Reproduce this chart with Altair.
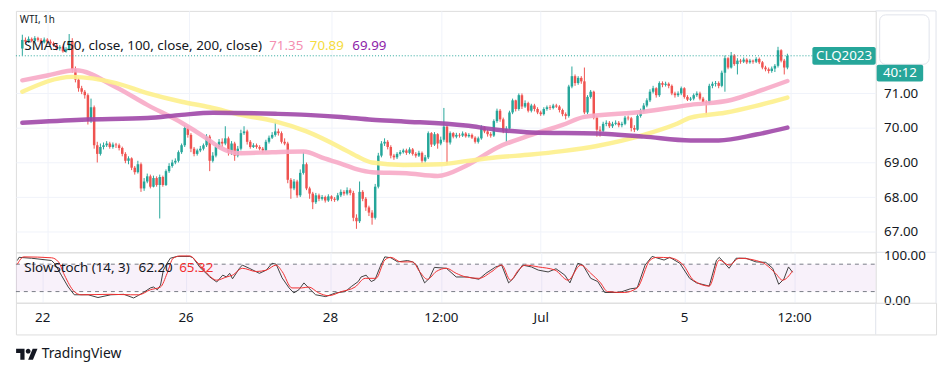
import altair as alt
import pandas as pd

# ---------------- data ----------------
opens = [
72.30, 72.55, 72.50, 72.58, 72.52, 72.60, 72.55, 72.48, 72.56, 72.50,
72.45, 72.40, 72.30, 72.35, 72.22, 72.28, 72.52, 71.70, 71.40, 71.15,
71.05, 70.95, 70.20, 70.60, 69.50, 69.25, 69.45, 69.50, 69.55, 69.45,
69.52, 69.50, 69.42, 69.25, 69.05, 69.12, 68.85, 68.72, 68.95, 68.25,
68.45, 68.60, 68.30, 68.55, 68.35, 68.58, 68.35, 68.75, 68.90, 69.00,
69.05, 69.30, 69.50, 70.00, 69.80, 69.40, 69.25, 69.35, 69.40, 69.50,
69.75, 69.05, 69.20, 69.45, 69.60, 69.55, 69.70, 69.30, 69.55, 69.20,
69.40, 69.85, 69.90, 69.60, 69.45, 69.50, 69.45, 69.40, 69.35, 69.60,
69.72, 69.80, 69.90, 69.85, 69.60, 69.55, 68.50, 68.25, 68.45, 68.05,
68.70, 68.95, 68.25, 68.10, 67.85, 68.05, 67.95, 68.00, 67.90, 68.02,
67.95, 67.92, 68.05, 68.15, 68.10, 68.20, 68.12, 67.40, 67.30, 68.15,
67.95, 67.70, 67.55, 67.40, 68.30, 69.20, 69.55, 69.60, 69.45, 69.20,
69.15, 69.25, 69.30, 69.35, 69.28, 69.38, 69.25, 69.20, 69.28, 69.05,
69.15, 69.85, 69.52, 69.82, 69.55, 69.66, 70.04, 69.58, 69.85, 69.75,
69.80, 69.78, 69.84, 69.76, 69.80, 69.72, 69.60, 69.70, 70.02, 69.90,
69.82, 69.78, 70.20, 70.50, 70.25, 69.92, 69.98, 70.45, 70.80, 70.55,
70.95, 70.62, 70.72, 70.50, 70.65, 70.55, 70.45, 70.40, 70.55, 70.60,
70.58, 70.65, 70.62, 70.52, 70.40, 70.35, 71.20, 71.50, 71.30, 71.45,
71.35, 70.45, 70.90, 71.05, 70.30, 69.95, 69.92, 70.12, 70.15, 70.05,
70.12, 70.15, 70.08, 70.12, 70.30, 70.28, 70.00, 69.95, 70.35, 70.50,
70.65, 70.80, 71.05, 71.15, 70.95, 71.30, 71.25, 71.28, 71.22, 71.00,
70.95, 71.00, 71.15, 70.90, 70.82, 70.85, 70.95, 71.00, 70.85, 70.75,
70.72, 71.22, 71.28, 71.30, 71.22, 71.60, 72.02, 71.75, 72.10, 71.85,
71.95, 71.92, 71.98, 71.90, 71.95, 71.92, 72.00, 71.90, 71.75, 71.70,
71.65, 71.72, 71.80, 72.25, 71.95, 71.75]

highs = [
72.70, 72.62, 72.65, 72.62, 72.66, 72.64, 72.60, 72.62, 72.60, 72.56,
72.50, 72.46, 72.40, 72.38, 72.34, 72.72, 72.60, 71.78, 71.45, 71.22,
71.10, 71.00, 70.85, 70.65, 69.60, 69.55, 69.58, 69.62, 69.60, 69.58,
69.57, 69.55, 69.46, 69.30, 69.18, 69.15, 68.90, 69.05, 69.00, 68.55,
68.68, 68.65, 68.62, 68.60, 68.65, 68.62, 68.80, 68.98, 69.08, 69.12,
69.35, 69.55, 70.08, 70.05, 69.85, 69.45, 69.40, 69.48, 69.55, 69.82,
69.80, 69.30, 69.52, 69.68, 69.70, 70.05, 69.75, 69.62, 69.60, 69.48,
69.95, 70.05, 69.95, 69.65, 69.56, 69.55, 69.50, 69.45, 69.66, 69.78,
69.88, 70.18, 69.98, 69.90, 69.70, 69.60, 68.55, 68.52, 68.50, 68.80,
69.30, 69.00, 68.30, 68.15, 68.12, 68.10, 68.06, 68.04, 68.08, 68.05,
68.00, 68.12, 68.22, 68.20, 68.28, 68.25, 68.18, 67.50, 68.45, 68.20,
68.00, 67.75, 67.62, 68.38, 69.28, 69.62, 69.70, 69.65, 69.50, 69.25,
69.30, 69.36, 69.40, 69.40, 69.44, 69.42, 69.30, 69.34, 69.32, 69.22,
69.90, 69.88, 69.88, 69.85, 69.75, 70.58, 70.08, 69.90, 69.88, 69.86,
69.85, 69.90, 69.88, 69.85, 69.84, 69.76, 69.75, 70.08, 70.05, 69.95,
69.88, 70.25, 70.56, 70.55, 70.30, 70.05, 70.50, 70.85, 70.82, 71.00,
71.00, 70.80, 70.76, 70.70, 70.70, 70.60, 70.50, 70.60, 70.65, 70.66,
70.70, 70.70, 70.66, 70.56, 70.45, 71.25, 71.78, 71.55, 71.50, 71.50,
71.75, 70.95, 71.10, 71.08, 70.35, 70.05, 70.18, 70.22, 70.20, 70.18,
70.22, 70.20, 70.18, 70.35, 70.36, 70.32, 70.08, 70.40, 70.56, 70.72,
70.86, 71.12, 71.22, 71.18, 71.35, 71.35, 71.34, 71.32, 71.26, 71.05,
71.06, 71.20, 71.18, 70.95, 70.90, 71.00, 71.06, 71.05, 70.90, 70.80,
71.28, 71.34, 71.36, 71.35, 71.66, 72.10, 72.05, 72.20, 72.14, 72.02,
72.00, 72.04, 72.02, 72.00, 71.98, 72.05, 72.04, 71.94, 71.80, 71.75,
71.78, 71.85, 72.35, 72.28, 72.00, 72.15]

lows = [
72.10, 72.45, 72.46, 72.48, 72.50, 72.50, 72.44, 72.45, 72.46, 72.40,
72.35, 72.25, 72.24, 72.18, 72.18, 72.25, 71.60, 71.32, 71.05, 70.98,
70.85, 70.10, 70.15, 69.40, 69.00, 69.20, 69.38, 69.45, 69.40, 69.40,
69.42, 69.35, 69.18, 68.98, 68.95, 68.78, 68.65, 68.68, 68.15, 68.18,
68.40, 68.25, 68.28, 68.30, 67.38, 68.30, 68.32, 68.70, 68.85, 68.95,
69.00, 69.25, 69.45, 69.72, 69.30, 69.18, 69.20, 69.30, 69.35, 69.45,
68.75, 69.00, 69.15, 69.40, 69.45, 69.50, 69.20, 69.22, 69.05, 69.15,
69.35, 69.80, 69.52, 69.40, 69.42, 69.40, 69.35, 69.28, 69.32, 69.55,
69.68, 69.75, 69.78, 69.55, 69.50, 68.40, 67.95, 68.20, 67.98, 68.00,
68.65, 68.20, 67.95, 67.65, 67.80, 67.88, 67.90, 67.84, 67.86, 67.88,
67.86, 67.88, 68.00, 68.04, 68.05, 68.05, 67.30, 67.08, 67.25, 67.88,
67.60, 67.45, 67.20, 67.35, 68.25, 69.15, 69.48, 69.38, 69.12, 69.08,
69.10, 69.20, 69.26, 69.22, 69.24, 69.20, 69.14, 69.16, 68.98, 69.00,
69.10, 69.45, 69.48, 69.40, 69.50, 69.60, 68.94, 69.52, 69.70, 69.70,
69.72, 69.74, 69.72, 69.72, 69.68, 69.55, 69.55, 69.66, 69.85, 69.75,
69.72, 69.74, 70.15, 70.18, 69.85, 69.60, 69.95, 70.40, 70.48, 70.50,
70.55, 70.58, 70.45, 70.45, 70.48, 70.40, 70.35, 70.36, 70.50, 70.52,
70.54, 70.58, 70.45, 70.34, 70.25, 70.30, 71.15, 71.22, 71.25, 71.28,
70.40, 70.40, 70.85, 70.25, 69.75, 69.75, 69.88, 70.05, 70.00, 70.00,
70.08, 70.02, 70.02, 70.08, 70.22, 69.90, 69.88, 69.92, 70.30, 70.45,
70.60, 70.75, 71.00, 70.88, 70.90, 71.18, 71.20, 71.15, 70.95, 70.88,
70.90, 70.95, 70.85, 70.78, 70.78, 70.80, 70.90, 70.80, 70.70, 70.38,
70.68, 71.15, 71.20, 71.15, 71.18, 71.05, 71.70, 71.72, 71.80, 71.55,
71.86, 71.88, 71.85, 71.86, 71.86, 71.88, 71.85, 71.70, 71.64, 71.58,
71.60, 71.62, 71.75, 71.90, 71.55, 71.70]

closes = [
72.55, 72.50, 72.58, 72.52, 72.60, 72.55, 72.48, 72.56, 72.50, 72.45,
72.40, 72.30, 72.35, 72.22, 72.28, 72.52, 71.70, 71.40, 71.15, 71.05,
70.95, 70.20, 70.60, 69.50, 69.25, 69.45, 69.50, 69.55, 69.45, 69.52,
69.50, 69.42, 69.25, 69.05, 69.12, 68.85, 68.72, 68.95, 68.25, 68.45,
68.60, 68.30, 68.55, 68.35, 68.58, 68.35, 68.75, 68.90, 69.00, 69.05,
69.30, 69.50, 70.00, 69.80, 69.40, 69.25, 69.35, 69.40, 69.50, 69.75,
69.05, 69.20, 69.45, 69.60, 69.55, 69.70, 69.30, 69.55, 69.20, 69.40,
69.85, 69.90, 69.60, 69.45, 69.50, 69.45, 69.40, 69.35, 69.60, 69.72,
69.80, 69.90, 69.85, 69.60, 69.55, 68.50, 68.25, 68.45, 68.05, 68.70,
68.95, 68.25, 68.10, 67.85, 68.05, 67.95, 68.00, 67.90, 68.02, 67.95,
67.92, 68.05, 68.15, 68.10, 68.20, 68.12, 67.40, 67.30, 68.15, 67.95,
67.70, 67.55, 67.40, 68.30, 69.20, 69.55, 69.60, 69.45, 69.20, 69.15,
69.25, 69.30, 69.35, 69.28, 69.38, 69.25, 69.20, 69.28, 69.05, 69.15,
69.85, 69.52, 69.82, 69.55, 69.66, 70.04, 69.58, 69.85, 69.75, 69.80,
69.78, 69.84, 69.76, 69.80, 69.72, 69.60, 69.70, 70.02, 69.90, 69.82,
69.78, 70.20, 70.50, 70.25, 69.92, 69.98, 70.45, 70.80, 70.55, 70.95,
70.62, 70.72, 70.50, 70.65, 70.55, 70.45, 70.40, 70.55, 70.60, 70.58,
70.65, 70.62, 70.52, 70.40, 70.35, 71.20, 71.50, 71.30, 71.45, 71.35,
70.45, 70.90, 71.05, 70.30, 69.95, 69.92, 70.12, 70.15, 70.05, 70.12,
70.15, 70.08, 70.12, 70.30, 70.28, 70.00, 69.95, 70.35, 70.50, 70.65,
70.80, 71.05, 71.15, 70.95, 71.30, 71.25, 71.28, 71.22, 71.00, 70.95,
71.00, 71.15, 70.90, 70.82, 70.85, 70.95, 71.00, 70.85, 70.75, 70.72,
71.22, 71.28, 71.30, 71.22, 71.60, 72.02, 71.75, 72.10, 71.85, 71.95,
71.92, 71.98, 71.90, 71.95, 71.92, 72.00, 71.90, 71.75, 71.70, 71.65,
71.72, 71.80, 72.25, 71.95, 71.75, 72.09]

sma50_idx = [0, 8, 17, 30, 40, 51, 59, 63, 69, 80, 90, 97, 102, 107, 112, 123, 133, 142, 152, 163, 173, 180, 199, 214, 227, 235, 245]
sma50 = [71.38, 71.52, 71.67, 71.18, 70.67, 70.15, 69.70, 69.45, 69.27, 69.30, 69.32, 69.11, 68.97, 68.81, 68.72, 68.69, 68.61, 68.90, 69.43, 69.80, 70.09, 70.32, 70.47, 70.67, 70.81, 71.04, 71.36]

sma100_idx = [0, 16, 30, 40, 51, 60, 70, 81, 91, 102, 107, 112, 122, 134, 142, 152, 163, 173, 184, 199, 209, 214, 225, 235, 245]
sma100 = [71.05, 71.48, 71.30, 71.01, 70.76, 70.60, 70.38, 70.19, 69.90, 69.43, 69.19, 69.00, 68.93, 68.95, 69.04, 69.15, 69.23, 69.33, 69.48, 69.80, 70.10, 70.30, 70.44, 70.64, 70.88]

sma200_idx = [0, 19, 40, 51, 61, 81, 91, 102, 112, 122, 142, 152, 163, 184, 199, 214, 223, 235, 245]
sma200 = [70.15, 70.24, 70.29, 70.38, 70.44, 70.41, 70.38, 70.32, 70.24, 70.19, 70.07, 69.95, 69.87, 69.84, 69.75, 69.64, 69.64, 69.81, 70.01]

k_idx = [0, 0.5, 4.5, 10.8, 11.7, 13.9, 16.1, 18, 22.4, 25.5,
         29.6, 33.7, 36.8, 38.4, 39.9, 42.1, 43.1, 44.3, 45.3, 46.2,
         47.4, 48.4, 50.6, 54.6, 55.6, 57.8, 60.9, 63.1, 65, 66.2,
         67.2, 68.1, 70.3, 71.2, 73.4, 76.6, 78.8, 80.6, 81.9, 83.8,
         86, 87.5, 89.1, 90.7, 92.2, 94.4, 97.6, 100.7, 103.8, 105.7,
         107.9, 108.8, 110.4, 112, 113.2, 114.8, 116.3, 118.2, 120.4, 123.5,
         125.1, 126.4, 128.9, 130.4, 132, 135.8, 138.9, 142.4, 146.1, 148.3,
         151.4, 153.3, 155.5, 157, 159.9, 162.7, 164.9, 168, 170.5, 173.3,
         174.9, 177.4, 179, 181.5, 183.7, 185.9, 190.6, 194, 196.2, 198.7,
         200.9, 204.7, 206.5, 209.7, 212.8, 215, 219, 221.3, 222.2, 225.3,
         227.5, 230.6, 233.8, 236.9, 239.1, 241, 242.6, 244.1, 245.4]
k_vals = [88, 95, 93, 88, 82, 56, 30, 13, 13, 7,
          13, 14, 6, 12, 18, 28, 30, 24, 34, 67,
          82, 93, 97, 97, 94, 73, 52, 41, 56, 52,
          60, 48, 71, 78, 71, 60, 67, 82, 80, 50,
          28, 17, 24, 39, 28, 13, 9, 17, 20, 31,
          42, 52, 56, 42, 46, 74, 96, 94, 85, 88,
          85, 78, 39, 49, 73, 71, 52, 52, 47, 60,
          74, 78, 39, 49, 78, 74, 67, 63, 70, 56,
          39, 82, 78, 49, 42, 18, 18, 26, 28, 78,
          97, 89, 95, 82, 49, 39, 32, 89, 95, 71,
          93, 93, 85, 84, 71, 36, 47, 74, 62.2]

d_idx = [0, 2, 10.8, 13, 14.9, 18, 20.2, 29.6, 35.9, 38.4,
         42.1, 45.3, 47.4, 49.3, 51.5, 54.6, 56.8, 60, 63.1, 66.2,
         68.1, 71.2, 75.6, 78.8, 81.9, 83.8, 86.9, 90, 92.2, 95.4,
         98.5, 102.6, 106.9, 110.1, 113.5, 116.3, 118.2, 121.4, 125.1, 127.3,
         129.8, 132.6, 135.8, 138.9, 142, 146.1, 150.2, 153.3, 156.1, 158.6,
         160.8, 164.9, 170.2, 174.3, 178.3, 181.5, 184.6, 186.8, 192.1, 196.2,
         200.3, 202.5, 206.5, 210.8, 214, 219, 222.2, 225.3, 228.5, 235.7,
         240, 242.2, 245.4]
d_vals = [80, 96, 94, 85, 56, 20, 13, 14, 13, 13,
          24, 30, 60, 93, 98, 98, 85, 60, 45, 52,
          56, 71, 64, 67, 78, 64, 28, 28, 30, 17,
          11, 20, 30, 49, 49, 89, 95, 85, 85, 64,
          47, 64, 71, 60, 52, 49, 64, 78, 45, 67,
          78, 74, 67, 45, 78, 60, 39, 20, 18, 28,
          89, 95, 94, 78, 45, 32, 89, 78, 93, 84,
          60, 45, 65.32]

tick_idx = [8, 53.4, 99.1, 134.2, 165.8, 211.2, 246]
tick_labels = ["22", "26", "28", "12:00", "Jul", "5", "12:00"]
price_ticks = [67, 68, 69, 70, 71]
stoch_ticks = [0, 100]
sma_legend = ["71.35", "70.89", "69.99"]
stoch_legend = ["62.20", "65.32"]

# ---------------- styling ----------------
UP, DOWN = "#26a69a", "#ef5350"
PINK, YELLOW, PURPLE = "#f7aac7", "#fdef8c", "#a048a8"
FONT = "Noto Sans"
TXT = "#131722"
GRID = "#f0f3fa"
BORDER = "#e0e3eb"

W, W_FULL = 869, 930
H_TOP, H_ST, H_TIME = 244, 51, 32
X_MIN, X_MAX = -0.47, 271.7
X_MAX_FULL = X_MIN + (X_MAX - X_MIN) * W_FULL / W

n = min(len(opens), len(highs), len(lows), len(closes))
candles = pd.DataFrame({"i": list(range(n)), "o": opens[:n], "h": highs[:n],
                        "l": lows[:n], "c": closes[:n]})
candles["dir"] = ["up" if c >= o else "down" for o, c in zip(candles["o"], candles["c"])]
last = closes[n - 1]
one = pd.DataFrame({"a": [0]})

xs = alt.Scale(domain=[X_MIN, X_MAX], nice=False, zero=False)
x_axis = alt.Axis(values=tick_idx, grid=True, gridColor=GRID, labels=False,
                  ticks=False, domain=False, title=None)
X = alt.X("i:Q", scale=xs, axis=x_axis)

ps = alt.Scale(domain=[66.40, 73.39], nice=False, zero=False)
p_axis = alt.Axis(orient="right", values=price_ticks, format=".2f", grid=True,
                  gridColor=GRID, ticks=False, domain=False, labelFont=FONT,
                  labelFontSize=13.5, labelColor=TXT, labelPadding=8, title=None)

cdir = alt.Color("dir:N", scale=alt.Scale(domain=["up", "down"], range=[UP, DOWN]), legend=None)

wicks = alt.Chart(candles).mark_rule(strokeWidth=1).encode(
    x=X, y=alt.Y("l:Q", scale=ps, axis=p_axis), y2="h:Q", color=cdir)
bodies = alt.Chart(candles).mark_bar(size=2.5).encode(
    x=X, y=alt.Y("o:Q", scale=ps, axis=p_axis), y2="c:Q", color=cdir)


def sma_layer(idx, vals, col, op):
    m = min(len(idx), len(vals))
    df = pd.DataFrame({"i": idx[:m], "v": vals[:m]})
    return alt.Chart(df).mark_line(strokeWidth=4.5, interpolate="monotone",
                                   strokeCap="round", color=col, opacity=op).encode(
        x=X, y=alt.Y("v:Q", scale=ps, axis=p_axis))


def text_at(s, x, y, col=TXT, size=13, align="left", weight="normal"):
    return alt.Chart(pd.DataFrame({"t": [s]})).mark_text(
        align=align, baseline="middle", font=FONT, fontSize=size, color=col,
        fontWeight=weight).encode(x=alt.value(x), y=alt.value(y), text="t:N")


def frame_rule(x, x2, y, y2):
    return alt.Chart(one).mark_rule(color=BORDER, strokeWidth=1).encode(
        x=alt.value(x), x2=alt.value(x2), y=alt.value(y), y2=alt.value(y2))


lastdf = pd.DataFrame({"p": [last], "t": ["CLQ2023"], "u": ["40:12"]})
last_line = alt.Chart(lastdf).mark_rule(strokeDash=[1, 2], color=UP, strokeWidth=1).encode(
    y=alt.Y("p:Q", scale=ps, axis=p_axis), x=alt.value(0), x2=alt.value(805))
clq_box = alt.Chart(lastdf).mark_rect(color=UP, yOffset=-9, y2Offset=9, cornerRadius=2).encode(
    y=alt.Y("p:Q", scale=ps, axis=p_axis), y2="p:Q", x=alt.value(805), x2=alt.value(869))
clq_txt = alt.Chart(lastdf).mark_text(color="white", font=FONT, fontSize=13.5,
                                      align="center", baseline="middle").encode(
    y=alt.Y("p:Q", scale=ps, axis=p_axis), x=alt.value(837), text="t:N")
tm_box = alt.Chart(lastdf).mark_rect(color=UP, yOffset=9, y2Offset=26, cornerRadius=2).encode(
    y=alt.Y("p:Q", scale=ps, axis=p_axis), y2="p:Q", x=alt.value(870), x2=alt.value(917))
tm_txt = alt.Chart(lastdf).mark_text(color="white", font=FONT, fontSize=13.5, yOffset=17.5,
                                     align="center", baseline="middle").encode(
    y=alt.Y("p:Q", scale=ps, axis=p_axis), x=alt.value(893.5), text="u:N")
blank_box = alt.Chart(one).mark_rect(fill="white", stroke=BORDER, strokeWidth=1, cornerRadius=6).encode(
    x=alt.value(873), x2=alt.value(923), y=alt.value(4), y2=alt.value(54))

top = alt.layer(
    wicks, bodies,
    sma_layer(sma50_idx, sma50, PINK, 0.9),
    sma_layer(sma100_idx, sma100, YELLOW, 0.9),
    sma_layer(sma200_idx, sma200, PURPLE, 0.9),
    last_line,
    text_at("WTI, 1h", 4, 9.5, size=10),
    text_at("SMAs (50, close, 100, close, 200, close)", 8.5, 35.3, size=13.5),
    text_at(sma_legend[0], 256, 35.3, "#f48fb1", size=13.5),
    text_at(sma_legend[1], 297, 35.3, "#f5dc3c", size=13.5),
    text_at(sma_legend[2], 340, 35.3, "#8e24aa", size=13.5),
    clq_box, clq_txt, blank_box, tm_box, tm_txt,
    frame_rule(869, 930, 0, 0), frame_rule(930, 930, 0, H_TOP), frame_rule(869, 930, H_TOP, H_TOP),
).properties(width=W, height=H_TOP)

# ---------------- stochastic panel ----------------
ss = alt.Scale(domain=[-4.5, 106], nice=False, zero=False)
s_axis = alt.Axis(orient="right", values=stoch_ticks, format=".2f", grid=False, ticks=False,
                  domain=False, labelFont=FONT, labelFontSize=13.5, labelColor=TXT,
                  labelPadding=8, title=None)
XS = alt.X("i:Q", scale=xs, axis=x_axis)

band = alt.Chart(pd.DataFrame({"lo": [20], "hi": [80]})).mark_rect(color="#9c27b0", opacity=0.065).encode(
    y=alt.Y("lo:Q", scale=ss, axis=s_axis), y2="hi:Q", x=alt.value(0), x2=alt.value(W))
levels = alt.Chart(pd.DataFrame({"lv": [20, 80]})).mark_rule(
    color="#787b86", strokeDash=[4, 4], strokeWidth=1).encode(
    y=alt.Y("lv:Q", scale=ss, axis=s_axis), x=alt.value(0), x2=alt.value(W))
mk = min(len(k_idx), len(k_vals))
kdf = pd.DataFrame({"i": k_idx[:mk], "v": k_vals[:mk]})
md = min(len(d_idx), len(d_vals))
ddf = pd.DataFrame({"i": d_idx[:md], "v": d_vals[:md]})
kline = alt.Chart(kdf).mark_line(color="#404040", strokeWidth=1).encode(
    x=XS, y=alt.Y("v:Q", scale=ss, axis=s_axis))
dline = alt.Chart(ddf).mark_line(color="#f23030", strokeWidth=1, interpolate="monotone").encode(
    x=XS, y=alt.Y("v:Q", scale=ss, axis=s_axis))

stoch = alt.layer(
    band, levels, kline, dline,
    text_at("SlowStoch (14, 3)", 8.5, 16, size=13.5),
    text_at(stoch_legend[0], 124, 16, size=13.5),
    text_at(stoch_legend[1], 165, 16, "#f23030", size=13.5),
    frame_rule(930, 930, 0, H_ST),
).properties(width=W, height=H_ST)

# ---------------- time axis panel ----------------
xs_full = alt.Scale(domain=[X_MIN, X_MAX_FULL], nice=False, zero=False)
tdf = pd.DataFrame({"i": tick_idx, "t": tick_labels})
tlabels = alt.Chart(tdf).mark_text(font=FONT, fontSize=13.5, color=TXT, baseline="middle").encode(
    x=alt.X("i:Q", scale=xs_full, axis=None), y=alt.value(15), text="t:N")

logo_path = ("M-0.208,0.5L-0.597,0.5L-0.597,-0.111L-0.986,-0.111L-0.986,-0.5L-0.208,-0.5Z"
             "M0.569,0.5L0.125,0.5L0.542,-0.5L0.986,-0.5Z"
             "M0.347,-0.278A0.222,0.222,0,1,1,-0.097,-0.278A0.222,0.222,0,1,1,0.347,-0.278Z")
logo = alt.Chart(one).mark_point(shape=logo_path, filled=True, fill=TXT, opacity=1,
                                 size=480, strokeWidth=0).encode(
    x=alt.value(11), y=alt.value(52))

timeax = alt.layer(
    tlabels,
    frame_rule(W, W, 0, H_TIME),
    logo,
    text_at("TradingView", 26, 52, size=14),
).properties(width=W_FULL, height=H_TIME)

chart = alt.vconcat(top, stoch, timeax, spacing=0, bounds="flush").properties(
    padding={"left": 4, "top": 0, "right": 4, "bottom": 4}
).configure_view(stroke=BORDER, strokeWidth=1).configure(background="white")

chart.save("out.html", embed_options={"renderer": "svg", "actions": False})
